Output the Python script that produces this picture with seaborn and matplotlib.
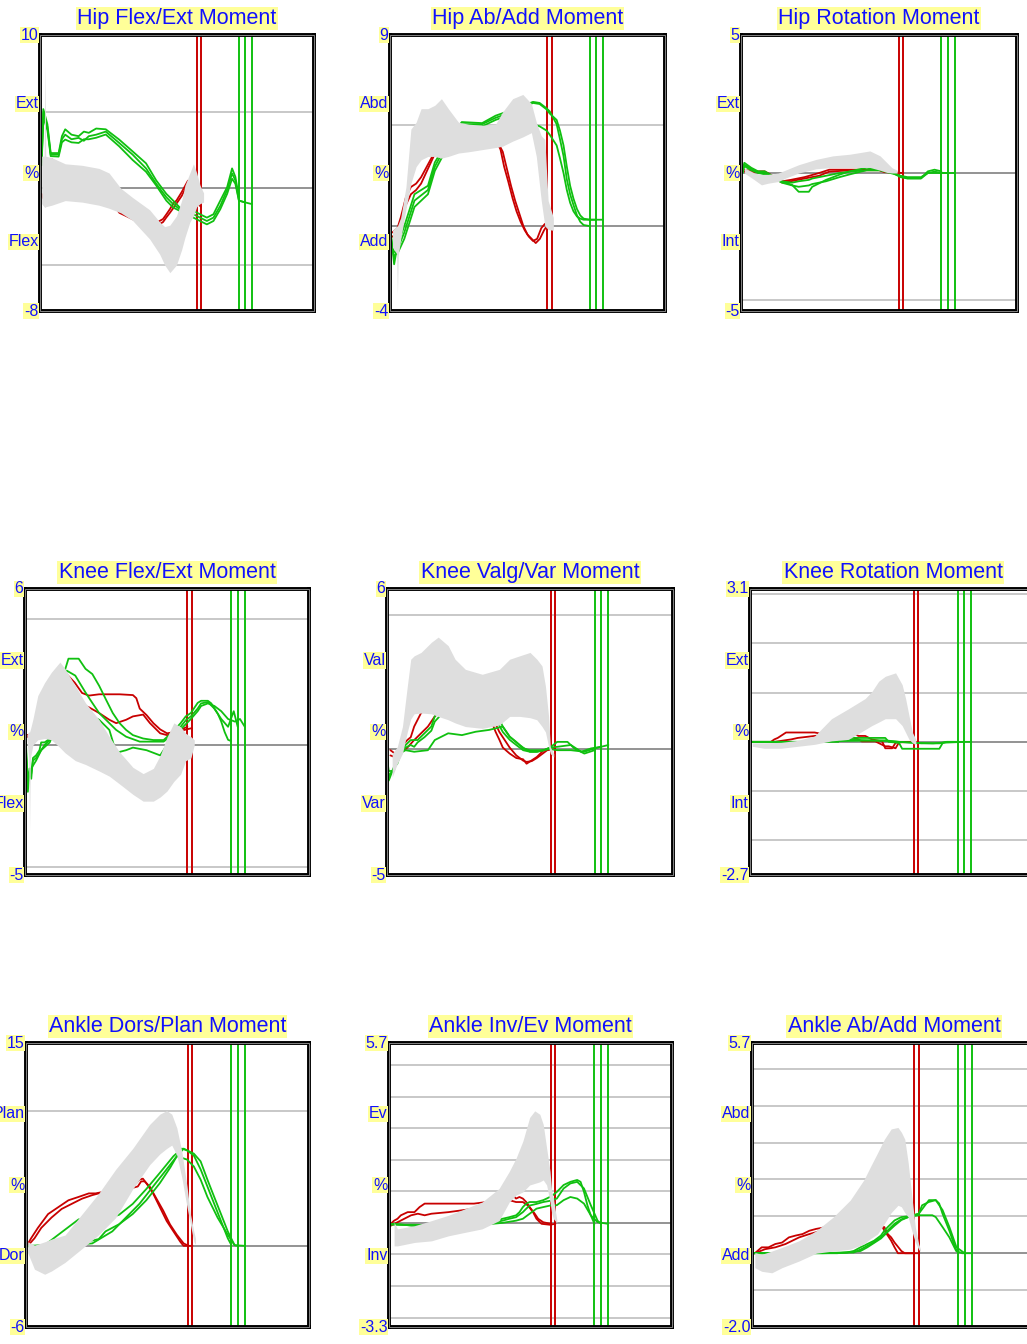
import pandas as pd
import seaborn as sns
import matplotlib.pyplot as plt
from matplotlib.patches import Rectangle
from matplotlib.transforms import offset_copy

# ---- panel text / scales ----
titles = ['Hip Flex/Ext Moment', 'Hip Ab/Add Moment', 'Hip Rotation Moment',
          'Knee Flex/Ext Moment', 'Knee Valg/Var Moment', 'Knee Rotation Moment',
          'Ankle Dors/Plan Moment', 'Ankle Inv/Ev Moment', 'Ankle Ab/Add Moment']
y_limits = [(-8, 10), (-4, 9), (-5, 5), (-5, 6), (-5, 6), (-2.7, 3.1), (-6, 15), (-3.3, 5.7), (-2.0, 5.7)]
y_labels = [['10', 'Ext', '%', 'Flex', '-8'],
            ['9', 'Abd', '%', 'Add', '-4'],
            ['5', 'Ext', '%', 'Int', '-5'],
            ['6', 'Ext', '%', 'Flex', '-5'],
            ['6', 'Val', '%', 'Var', '-5'],
            ['3.1', 'Ext', '%', 'Int', '-2.7'],
            ['15', 'Plan', '%', 'Dor', '-6'],
            ['5.7', 'Ev', '%', 'Inv', '-3.3'],
            ['5.7', 'Abd', '%', 'Add', '-2.0']]
grid_light = [[5, -5], [4.75], [-4.6], [4.85, -4.7], [5], [3, 2, 1, -1, -2], [10],
              [5, 4, 3, 2, 1, -1, -2, -3], [5, 4, 3, 2, 1, -1]]
grid_dark = [0, 0, 0, 0, -0.15, 0, 0, 0, 0]

# foot-off events (% of cycle)
red_off = [57.2, 58.8]
green_off = [72.6, 74.9, 77.4]

# ---- Hip Flex/Ext ----
hip_fe_band_x = [0.6, 1.5, 1.8, 2.1, 4.3, 9.2, 15.4, 21.5, 25.2, 29.5, 33.8, 40.0, 43.7, 45.5, 47.4, 49.8, 51.7, 52.9, 54.7, 56.0, 57.2, 58.4, 59.7]
hip_fe_band_hi = [2.1, 2.1, 8.2, 2.1, 2.0, 1.6, 1.5, 1.3, 1.0, 0.0, -0.6, -1.4, -2.2, -2.5, -2.4, -1.8, -0.8, 0.2, 1.0, 1.6, 1.0, 0.2, -0.3]
hip_fe_band_lo = [-1.0, -1.2, -1.25, -1.2, -1.1, -0.8, -0.9, -1.1, -1.3, -1.6, -2.1, -3.3, -4.3, -5.0, -5.5, -5.0, -4.0, -3.2, -2.2, -1.8, -1.2, -1.0, -0.9]
hip_fe_red1 = [(0.6, -0.36), (1.8, -0.7), (3.2, 0.5), (4.3, 1.9), (8.0, 1.3), (13.0, 1.1), (20.0, 0.6), (29.0, -1.5), (36.0, -2.0), (42.0, -2.3), (44.9, -2.0), (46.1, -1.7), (47.4, -1.36), (48.6, -1.0), (49.8, -0.8), (51.7, -0.25), (54.0, 0.5), (56.0, -0.6), (57.2, -1.0)]
hip_fe_red2 = [(0.6, -0.5), (1.8, -0.8), (3.2, 0.3), (4.3, 1.7), (8.0, 1.2), (13.0, 1.0), (20.0, 0.5), (29.0, -1.6), (36.0, -2.2), (42.0, -2.5), (44.9, -2.2), (46.1, -1.9), (47.4, -1.6), (48.6, -1.3), (49.8, -1.0), (51.7, -0.5), (54.0, 0.3), (56.0, -0.8), (58.8, -1.2)]
hip_fe_green1 = [(0.6, 1.85), (1.2, 5.17), (2.7, 4.18), (3.9, 2.3), (6.8, 2.3), (8.0, 3.4), (9.2, 3.85), (11.5, 3.5), (14.1, 3.4), (16.0, 3.7), (17.8, 3.62), (20.5, 3.9), (24.0, 3.85), (28.9, 3.18), (33.8, 2.41), (38.7, 1.63), (42.4, 0.52), (46.1, -0.36), (48.6, -0.8), (51.0, -1.25), (53.5, -1.4), (56.0, -1.47), (58.4, -1.69), (60.9, -1.91), (63.3, -1.69), (65.8, -0.8), (68.3, 0.08), (70.1, 1.3), (71.3, 0.75), (72.6, -0.58)]
hip_fe_green2 = [(0.6, 1.7), (1.2, 4.9), (2.7, 4.0), (3.9, 2.2), (6.8, 2.2), (8.0, 3.2), (9.2, 3.5), (11.5, 3.2), (14.1, 3.29), (16.0, 3.1), (17.8, 3.4), (20.5, 3.5), (24.0, 3.7), (28.9, 2.96), (33.8, 2.2), (38.7, 1.3), (42.4, 0.3), (46.1, -0.58), (48.6, -1.03), (51.0, -1.36), (53.5, -1.5), (56.0, -1.69), (58.4, -1.91), (60.9, -2.13), (63.3, -1.91), (65.8, -1.14), (68.3, -0.1), (70.1, 0.97), (71.3, 0.52), (72.6, -0.8), (74.9, -0.92)]
hip_fe_green3 = [(0.6, 1.5), (1.2, 4.6), (2.7, 3.8), (3.9, 2.1), (6.8, 2.07), (8.0, 3.0), (9.2, 3.18), (11.5, 3.0), (14.1, 2.96), (16.0, 3.2), (17.8, 3.2), (20.5, 3.3), (24.0, 3.51), (28.9, 2.74), (33.8, 1.85), (38.7, 1.08), (42.4, 0.19), (46.1, -0.8), (48.6, -1.25), (51.0, -1.47), (53.5, -1.6), (56.0, -1.91), (58.4, -2.13), (60.9, -2.35), (63.3, -2.13), (65.8, -1.36), (68.3, -0.36), (70.1, 0.63), (71.3, 0.3), (72.6, -0.8), (74.9, -0.92), (77.4, -1.03)]

# ---- Hip Ab/Add ----
hip_aa_band_x = [0.9, 2.4, 2.7, 3.0, 3.9, 5.8, 7.6, 9.5, 11.3, 13.8, 16.3, 18.7, 21.2, 24.9, 28.6, 33.5, 38.4, 40.9, 44.6, 48.3, 51.4, 53.2, 55.0, 56.3, 57.5, 59.4]
hip_aa_band_hi = [-0.2, 0.0, 0.0, 0.1, 0.4, 1.84, 4.57, 4.89, 5.53, 5.53, 5.69, 6.0, 5.53, 4.89, 4.8, 4.75, 4.8, 5.37, 6.0, 6.2, 5.77, 4.89, 4.25, 4.08, 1.2, 0.4]
hip_aa_band_lo = [-1.0, -1.3, -3.2, -1.4, -0.6, 0.8, 2.0, 2.8, 3.12, 3.28, 3.28, 3.2, 3.28, 3.44, 3.5, 3.6, 3.7, 3.76, 4.0, 4.2, 4.4, 3.28, 1.2, 0.0, -0.16, -0.2]
hip_aa_red1 = [(0.9, -0.3), (2.7, -0.1), (3.9, 0.4), (5.8, 1.36), (7.6, 1.84), (9.5, 2.0), (11.3, 2.3), (13.8, 2.9), (16.3, 3.5), (20.0, 3.9), (30.0, 4.1), (38.4, 4.1), (40.2, 3.6), (41.5, 2.8), (43.0, 2.1), (44.6, 1.3), (46.0, 0.7), (47.5, 0.2), (49.0, -0.2), (50.5, -0.5), (52.0, -0.7), (53.5, -0.6), (55.0, -0.1), (56.3, 0.1), (57.2, 0.15)]
hip_aa_red2 = [(0.9, -0.5), (2.7, -0.3), (3.9, 0.1), (5.8, 1.0), (7.6, 1.5), (9.5, 1.7), (11.3, 2.0), (13.8, 2.7), (16.3, 3.4), (20.0, 3.8), (30.0, 4.0), (39.0, 4.0), (41.0, 3.5), (42.5, 2.7), (44.0, 1.9), (45.5, 1.2), (47.0, 0.6), (48.5, 0.0), (50.0, -0.4), (51.5, -0.6), (53.0, -0.8), (54.5, -0.6), (56.0, -0.2), (57.5, 0.1), (58.8, 0.15)]
hip_aa_green1 = [(0.3, -0.3), (1.5, -1.8), (2.7, -0.9), (5.2, 0.0), (8.9, 1.5), (13.8, 1.9), (16.3, 3.0), (20.0, 3.8), (26.1, 4.9), (33.5, 4.85), (38.4, 5.2), (45.0, 5.5), (52.0, 5.85), (54.4, 5.8), (56.9, 5.55), (58.1, 5.4), (60.6, 4.8), (61.8, 4.1), (63.1, 3.3), (64.3, 2.2), (65.5, 1.5), (66.7, 1.0), (68.0, 0.5), (69.2, 0.2), (70.4, 0.05), (72.6, 0.0)]
hip_aa_green2 = [(0.3, -0.5), (1.5, -1.5), (2.7, -1.1), (5.2, -0.3), (8.9, 1.2), (13.8, 1.7), (16.3, 2.8), (20.0, 3.7), (26.1, 4.8), (33.5, 4.8), (38.4, 5.1), (45.0, 5.4), (52.0, 5.8), (54.4, 5.75), (56.9, 5.5), (58.1, 5.3), (60.6, 5.0), (61.8, 4.5), (63.1, 3.8), (64.3, 2.8), (65.5, 1.9), (66.7, 1.3), (68.0, 0.8), (69.2, 0.5), (70.4, 0.35), (72.7, 0.3), (74.9, 0.3)]
hip_aa_green3 = [(0.3, -0.8), (1.5, -1.2), (2.7, -1.3), (5.2, -0.6), (8.9, 0.9), (13.8, 1.5), (16.3, 2.6), (20.0, 3.5), (26.1, 4.7), (33.5, 4.7), (38.4, 5.0), (45.0, 5.3), (52.0, 4.8), (54.4, 4.7), (56.9, 4.5), (58.1, 4.3), (60.6, 3.8), (61.8, 3.2), (63.1, 2.5), (64.3, 1.7), (65.5, 1.1), (66.7, 0.7), (68.0, 0.45), (69.2, 0.35), (70.4, 0.3), (72.7, 0.3), (74.9, 0.3), (77.4, 0.3)]

# ---- Hip Rotation ----
hip_rot_band_x = [1.2, 4.9, 7.4, 9.8, 13.5, 16.0, 20.9, 27.1, 33.2, 39.4, 43.1, 46.7, 50.4, 52.9, 54.7, 56.6]
hip_rot_band_hi = [0.19, 0.0, -0.05, -0.05, 0.0, 0.1, 0.3, 0.49, 0.62, 0.68, 0.74, 0.80, 0.62, 0.37, 0.19, 0.1]
hip_rot_band_lo = [0.0, -0.25, -0.43, -0.37, -0.31, -0.19, 0.0, 0.15, 0.2, 0.2, 0.2, 0.2, 0.1, 0.02, 0.0, 0.0]
hip_rot_red1 = [(1.2, 0.12), (4.9, 0.06), (8.6, 0.06), (15.0, -0.3), (18.0, -0.25), (23.0, -0.15), (28.3, 0.0), (32.0, 0.12), (40.0, 0.12), (50.0, 0.12), (52.0, 0.05), (57.2, 0.0)]
hip_rot_red2 = [(1.2, 0.05), (4.9, 0.03), (8.6, 0.0), (15.0, -0.35), (18.0, -0.3), (23.0, -0.2), (28.3, -0.1), (32.0, 0.05), (40.0, 0.1), (50.0, 0.1), (52.0, 0.03), (58.8, 0.0)]
hip_rot_green1 = [(0.6, 0.1), (1.2, 0.37), (3.7, 0.19), (6.2, 0.06), (8.6, 0.06), (14.8, -0.31), (18.5, -0.43), (20.9, -0.68), (24.6, -0.68), (25.8, -0.5), (30.8, -0.25), (35.7, -0.06), (39.4, 0.06), (45.5, 0.19), (50.4, 0.12), (54.1, 0.06), (57.8, -0.12), (60.3, -0.19), (65.2, -0.19), (67.7, 0.06), (70.1, 0.12), (72.6, 0.06)]
hip_rot_green2 = [(0.6, 0.05), (1.2, 0.3), (3.7, 0.15), (6.2, 0.03), (8.6, 0.0), (14.8, -0.35), (18.5, -0.45), (20.9, -0.5), (24.6, -0.45), (25.8, -0.4), (30.8, -0.3), (35.7, -0.15), (39.4, -0.05), (45.5, 0.1), (50.4, 0.1), (54.1, 0.05), (57.8, -0.15), (60.3, -0.2), (65.2, -0.2), (67.7, 0.0), (70.1, 0.05), (72.8, 0.0), (74.9, 0.0)]
hip_rot_green3 = [(0.6, 0.0), (1.2, 0.25), (3.7, 0.1), (6.2, 0.0), (8.6, -0.05), (14.8, -0.3), (18.5, -0.35), (20.9, -0.3), (24.6, -0.25), (25.8, -0.2), (30.8, -0.1), (35.7, 0.0), (39.4, 0.05), (45.5, 0.1), (50.4, 0.1), (54.1, 0.0), (57.8, -0.1), (60.3, -0.15), (65.2, -0.15), (67.7, 0.0), (70.1, 0.0), (72.8, 0.0), (75.0, 0.0), (77.4, 0.0)]

# ---- Knee Flex/Ext ----
knee_fe_band_x = [0.7, 1.3, 1.6, 1.9, 2.8, 4.5, 6.9, 9.3, 12.3, 14.1, 17.7, 21.3, 26.1, 29.7, 33.3, 38.0, 41.6, 45.2, 47.6, 50.0, 52.4, 54.8, 56.6, 58.4, 59.6]
knee_fe_band_hi = [0.4, 0.5, 0.5, 0.6, 1.0, 1.9, 2.4, 2.8, 3.19, 2.93, 2.28, 1.62, 0.97, 0.32, -0.27, -0.86, -1.1, -0.9, -0.4, 0.3, 0.85, 0.7, 0.45, 0.32, 0.2]
knee_fe_band_lo = [0.2, -0.5, -3.28, -0.5, 0.0, 0.2, 0.25, 0.2, -0.1, -0.3, -0.6, -0.75, -1.0, -1.2, -1.5, -1.9, -2.16, -2.16, -2.0, -1.77, -1.4, -1.12, -0.6, -0.5, 0.0]
knee_fe_red1 = [(0.4, 0.38), (2.2, 0.4), (6.0, 1.2), (10.0, 2.2), (14.0, 2.8), (17.5, 2.4), (20.1, 2.0), (22.5, 1.9), (26.1, 1.95), (29.7, 1.95), (33.3, 1.95), (38.0, 1.92), (39.2, 1.8), (40.4, 1.4), (42.8, 1.15), (45.2, 0.84), (47.6, 0.6), (50.0, 0.45), (53.0, 0.5), (55.0, 0.6), (57.2, 0.7)]
knee_fe_red2 = [(0.4, 0.3), (2.2, 0.35), (6.0, 1.0), (10.0, 1.9), (14.0, 2.2), (17.5, 1.9), (20.1, 1.55), (22.5, 1.45), (26.1, 1.23), (29.7, 0.97), (32.1, 0.84), (35.6, 0.97), (38.0, 1.1), (41.6, 1.17), (44.0, 0.84), (47.6, 0.45), (50.0, 0.38), (53.0, 0.45), (55.0, 0.55), (58.8, 0.65)]
knee_fe_green1 = [(0.0, 0.3), (0.4, -0.1), (1.0, -1.8), (1.6, -0.9), (2.2, -1.3), (2.8, -0.5), (3.9, -0.4), (5.1, -0.2), (5.7, 0.1), (6.9, 0.1), (8.1, 0.19), (8.7, 0.32), (11.0, 1.5), (13.0, 2.5), (15.3, 3.32), (18.9, 3.32), (21.3, 2.93), (23.7, 2.73), (26.1, 2.28), (28.5, 1.75), (30.9, 1.23), (33.3, 0.84), (35.6, 0.58), (38.0, 0.38), (41.6, 0.25), (45.2, 0.19), (48.8, 0.19), (52.0, 0.5), (54.8, 0.84), (56.6, 1.1), (58.4, 1.23), (60.8, 1.62), (62.0, 1.7), (64.4, 1.7), (65.6, 1.6), (66.7, 1.4), (67.9, 1.2), (69.1, 0.9), (70.3, 0.5), (71.5, 0.2), (72.6, 0.15)]
knee_fe_green2 = [(0.0, 0.2), (0.4, -0.3), (1.0, -1.5), (1.6, -1.0), (2.2, -1.1), (2.8, -0.6), (3.9, -0.5), (5.1, -0.3), (6.9, 0.0), (8.7, 0.2), (11.0, 1.3), (13.0, 2.3), (14.7, 2.86), (17.7, 2.67), (21.3, 2.02), (23.7, 1.62), (26.1, 1.23), (29.7, 0.84), (32.1, 0.58), (35.6, 0.32), (40.4, 0.13), (45.2, 0.13), (48.8, 0.13), (52.0, 0.4), (54.8, 0.7), (56.6, 0.95), (58.4, 1.1), (60.8, 1.4), (62.0, 1.6), (64.4, 1.65), (66.7, 1.4), (69.1, 1.0), (71.5, 0.7), (73.5, 1.3), (74.9, 0.7)]
knee_fe_green3 = [(0.0, 0.1), (0.4, -0.5), (1.0, -1.2), (2.2, -0.9), (3.9, -0.6), (5.7, -0.2), (8.7, 0.1), (12.0, 1.0), (16.0, 1.5), (20.1, 1.62), (23.7, 1.1), (26.1, 0.97), (29.7, 0.58), (32.1, -0.3), (35.6, -0.2), (38.0, -0.1), (42.8, -0.2), (47.6, -0.4), (50.0, 0.0), (52.0, 0.3), (54.8, 0.6), (56.6, 0.8), (58.4, 1.0), (60.8, 1.3), (62.0, 1.5), (64.4, 1.6), (66.7, 1.5), (69.1, 1.3), (71.5, 1.0), (73.9, 0.9), (75.7, 1.0), (77.4, 0.7)]

# ---- Knee Valg/Var ----
knee_vv_band_x = [1.8, 3.6, 5.4, 7.1, 8.3, 9.5, 11.9, 15.5, 17.9, 21.4, 23.8, 27.4, 33.3, 39.3, 42.9, 46.4, 50.0, 52.4, 54.2, 55.4, 56.5, 57.1, 58.3]
knee_vv_band_hi = [-0.33, -0.07, 0.71, 2.26, 3.3, 3.43, 3.56, 3.95, 4.15, 3.82, 3.3, 2.91, 2.72, 2.91, 3.3, 3.43, 3.56, 3.3, 3.04, 2.26, 1.1, -0.07, -0.33]
knee_vv_band_lo = [-1.24, -0.72, -0.33, 0.5, 1.0, 1.2, 1.23, 1.2, 1.1, 0.97, 0.85, 0.71, 0.64, 0.77, 1.1, 1.1, 1.05, 0.97, 0.71, 0.5, -0.07, -0.33, -0.46]
knee_vv_red1 = [(1.2, -0.4), (3.6, -0.5), (6.0, 0.06), (7.1, 0.19), (8.3, 0.3), (9.5, 0.71), (10.7, 0.97), (11.9, 1.23), (15.0, 1.5), (20.0, 1.6), (30.0, 1.4), (36.9, 0.8), (38.0, 0.5), (39.3, 0.2), (40.5, -0.1), (42.9, -0.33), (45.2, -0.5), (47.6, -0.55), (48.8, -0.72), (50.6, -0.59), (52.4, -0.46), (54.8, -0.2), (57.2, -0.15)]
knee_vv_red2 = [(1.2, -0.2), (3.6, -0.4), (6.0, -0.2), (7.1, -0.1), (9.5, 0.19), (11.9, 0.45), (14.3, 0.71), (16.7, 1.1), (20.0, 1.4), (30.0, 1.3), (38.0, 0.8), (39.3, 0.5), (40.5, 0.3), (42.9, -0.1), (45.2, -0.4), (47.6, -0.6), (48.8, -0.65), (50.6, -0.62), (52.4, -0.5), (54.8, -0.3), (56.0, -0.2), (58.8, -0.15)]
knee_vv_green1 = [(0.0, -0.33), (0.6, -1.37), (2.4, -0.85), (3.6, -0.72), (4.8, -0.33), (6.5, 0.0), (8.3, 0.19), (10.7, 0.19), (13.1, 0.45), (15.5, 0.71), (16.7, 1.1), (20.0, 1.5), (30.0, 1.5), (38.0, 1.3), (40.5, 0.7), (42.9, 0.32), (45.2, 0.12), (47.6, -0.13), (50.0, -0.2), (52.4, -0.2), (54.8, -0.2), (57.0, -0.1), (59.5, 0.12), (63.1, 0.12), (65.5, -0.13), (69.0, -0.33), (72.6, -0.2)]
knee_vv_green2 = [(0.0, -0.4), (0.6, -1.2), (2.4, -0.9), (3.6, -0.6), (4.8, -0.3), (6.5, -0.1), (8.3, 0.0), (9.5, -0.07), (10.7, 0.1), (13.1, 0.3), (15.5, 0.55), (16.7, 0.9), (20.0, 1.3), (30.0, 1.3), (38.0, 1.0), (40.5, 0.5), (42.9, 0.2), (45.2, 0.0), (47.6, -0.2), (50.0, -0.26), (52.4, -0.26), (54.8, -0.2), (57.0, -0.1), (59.5, -0.07), (64.3, 0.0), (67.9, -0.26), (71.4, -0.13), (74.9, -0.07)]
knee_vv_green3 = [(0.0, -0.5), (0.6, -1.0), (2.4, -1.0), (3.6, -0.5), (4.8, -0.3), (6.5, -0.2), (9.5, -0.26), (14.3, -0.2), (16.7, 0.19), (21.4, 0.45), (26.2, 0.38), (31.0, 0.51), (35.7, 0.58), (40.5, 0.71), (42.9, 0.32), (45.2, 0.1), (47.6, -0.1), (50.0, -0.26), (52.4, -0.26), (54.8, -0.2), (57.0, -0.15), (59.5, -0.2), (64.3, -0.2), (69.0, -0.26), (72.6, -0.13), (77.4, 0.0)]

# ---- Knee Rotation ----
knee_rot_band_x = [0.8, 4.9, 10.8, 16.7, 22.6, 28.5, 34.4, 40.3, 42.6, 45.0, 47.3, 50.9, 53.2, 54.4, 55.6, 56.8, 58.0]
knee_rot_band_hi = [-0.02, -0.02, -0.01, 0.03, 0.12, 0.47, 0.67, 0.88, 1.02, 1.23, 1.33, 1.40, 1.16, 0.88, 0.53, 0.19, 0.05]
knee_rot_band_lo = [-0.09, -0.13, -0.13, -0.09, -0.05, 0.02, 0.05, 0.25, 0.33, 0.40, 0.47, 0.47, 0.33, 0.19, 0.05, -0.02, -0.06]
knee_rot_red1 = [(0.2, 0.0), (7.3, 0.0), (8.5, 0.05), (9.7, 0.08), (12.6, 0.19), (22.6, 0.19), (26.1, 0.15), (33.2, 0.19), (35.6, 0.19), (37.9, 0.12), (40.3, 0.12), (42.6, 0.05), (46.2, 0.01), (47.3, -0.13), (49.7, -0.13), (50.9, -0.02), (52.1, 0.0), (57.2, 0.0)]
knee_rot_red2 = [(0.2, 0.0), (8.5, 0.0), (14.4, 0.05), (16.7, 0.08), (22.6, 0.12), (28.5, 0.15), (34.4, 0.12), (37.9, 0.05), (39.1, 0.01), (43.8, 0.01), (47.3, -0.09), (48.5, -0.09), (50.9, -0.13), (52.1, -0.01), (58.8, 0.0)]
knee_rot_green1 = [(0.2, 0.0), (26.1, 0.0), (26.5, 0.05), (30.9, 0.08), (47.3, 0.08), (48.5, 0.0), (52.1, -0.02), (53.2, -0.14), (66.2, -0.14), (67.4, -0.02), (68.6, 0.0), (72.6, 0.0)]
knee_rot_green2 = [(0.2, 0.0), (30.9, 0.0), (31.2, 0.05), (47.3, 0.02), (52.1, 0.0), (58.0, -0.02), (64.0, -0.03), (66.2, -0.02), (74.9, 0.0)]
knee_rot_green3 = [(0.2, 0.0), (20.0, 0.0), (35.0, 0.02), (47.3, 0.03), (52.1, 0.0), (60.0, -0.03), (66.2, -0.03), (69.0, 0.0), (77.4, 0.0)]

# ---- Ankle Dors/Plan ----
ank_dp_band_x = [0.6, 3.0, 6.6, 9.0, 13.8, 19.8, 25.7, 31.7, 37.7, 43.7, 47.3, 49.7, 51.5, 53.3, 55.1, 56.9, 58.1, 59.3, 59.9]
ank_dp_band_hi = [0.3, 0.05, 0.3, 0.5, 0.8, 2.35, 3.88, 5.66, 7.2, 8.98, 9.74, 10.0, 9.74, 8.72, 6.94, 4.39, 2.35, 1.07, 0.56]
ank_dp_band_lo = [-0.5, -1.73, -2.1, -1.86, -1.22, -0.2, 0.82, 2.09, 4.2, 6.0, 6.8, 7.2, 7.45, 6.7, 5.0, 2.86, 1.58, 0.31, 0.1]
ank_dp_red1 = [(0.4, 0.05), (1.8, 0.56), (4.2, 1.33), (7.8, 2.35), (11.4, 2.86), (15.0, 3.37), (18.6, 3.62), (22.2, 3.88), (24.6, 3.88), (30.0, 4.1), (35.0, 4.4), (38.9, 4.64), (40.1, 4.9), (41.3, 4.97), (42.5, 4.64), (44.9, 3.88), (47.3, 2.86), (49.7, 1.84), (52.1, 1.07), (54.5, 0.31), (55.7, 0.0), (57.2, 0.0)]
ank_dp_red2 = [(0.6, 0.0), (3.0, 0.56), (5.4, 1.33), (9.0, 2.09), (12.6, 2.73), (16.2, 3.11), (19.8, 3.49), (23.4, 3.75), (25.7, 3.88), (32.0, 4.1), (36.0, 4.2), (39.5, 4.39), (40.7, 4.77), (41.9, 4.77), (43.7, 4.39), (46.1, 3.49), (48.5, 2.6), (50.9, 1.58), (53.3, 0.82), (55.7, 0.18), (57.5, 0.0), (58.8, 0.0)]
ank_dp_green1 = [(0.6, 0.0), (6.6, 0.05), (11.4, 0.82), (18.6, 1.96), (25.7, 1.8), (32.9, 2.3), (37.7, 3.1), (42.5, 4.2), (47.3, 5.4), (52.1, 6.63), (55.1, 7.19), (56.9, 7.06), (59.3, 6.68), (61.7, 5.66), (64.1, 4.39), (66.5, 3.11), (68.9, 1.84), (71.3, 0.56), (72.6, 0.05)]
ank_dp_green2 = [(0.6, -0.05), (6.6, 0.05), (13.8, 0.05), (23.4, 0.18), (30.5, 1.07), (35.3, 2.09), (40.1, 3.11), (44.9, 4.39), (49.7, 5.66), (53.3, 6.63), (55.7, 7.19), (59.3, 6.82), (61.7, 6.25), (64.1, 4.9), (66.5, 3.62), (68.9, 2.35), (71.3, 1.07), (73.7, 0.05), (74.9, 0.0)]
ank_dp_green3 = [(0.6, 0.0), (3.0, -0.07), (11.4, 0.05), (18.6, 0.18), (25.7, 0.5), (28.1, 1.07), (32.9, 1.6), (37.7, 2.35), (42.5, 3.37), (47.3, 4.64), (51.0, 5.8), (53.3, 6.63), (56.9, 6.38), (59.3, 5.87), (61.7, 4.9), (64.1, 3.62), (67.7, 2.09), (71.3, 0.82), (73.7, 0.05), (77.4, 0.0)]

# ---- Ankle Inv/Ev ----
ank_ie_band_x = [1.8, 3.0, 9.0, 15.0, 21.0, 26.9, 32.9, 38.9, 42.5, 44.9, 47.3, 49.7, 51.5, 53.3, 54.5, 55.7, 56.9, 57.5, 58.1, 59.3]
ank_ie_band_hi = [0.02, -0.19, -0.09, 0.07, 0.24, 0.45, 0.66, 1.09, 1.63, 2.05, 2.59, 3.34, 3.55, 3.44, 3.12, 2.37, 1.63, 1.0, 0.77, 0.1]
ank_ie_band_lo = [-0.73, -0.73, -0.62, -0.57, -0.41, -0.3, -0.19, 0.07, 0.66, 0.88, 0.98, 1.2, 1.25, 1.3, 1.36, 1.2, 0.66, 0.3, 0.13, 0.0]
ank_ie_red1 = [(0.6, -0.03), (1.8, 0.07), (3.0, 0.13), (4.2, 0.24), (6.6, 0.34), (9.0, 0.34), (10.8, 0.5), (12.6, 0.61), (20.0, 0.61), (30.0, 0.61), (38.0, 0.7), (42.5, 0.82), (43.7, 0.88), (44.9, 0.77), (46.1, 0.82), (47.3, 0.77), (48.5, 0.66), (49.7, 0.5), (51.5, 0.29), (52.7, 0.13), (54.5, 0.02), (57.2, -0.03)]
ank_ie_red2 = [(0.6, -0.09), (3.0, 0.02), (5.4, 0.13), (7.8, 0.24), (10.2, 0.29), (12.6, 0.24), (15.0, 0.29), (21.0, 0.34), (30.0, 0.45), (38.0, 0.55), (42.5, 0.72), (44.9, 0.66), (47.3, 0.66), (49.1, 0.55), (50.9, 0.34), (52.1, 0.13), (53.9, -0.03), (56.9, -0.06), (58.8, -0.03)]
ank_ie_green1 = [(0.6, -0.03), (5.0, -0.06), (9.0, -0.09), (20.0, -0.06), (26.9, -0.03), (32.9, 0.0), (37.7, 0.07), (40.1, 0.13), (42.5, 0.18), (44.9, 0.24), (46.1, 0.34), (47.3, 0.5), (48.5, 0.61), (49.7, 0.66), (52.1, 0.66), (54.5, 0.72), (55.7, 0.77), (57.5, 0.85), (59.3, 0.98), (61.7, 1.2), (64.1, 1.3), (66.5, 1.36), (67.7, 1.3), (68.9, 0.98), (70.1, 0.56), (71.3, 0.24), (72.6, -0.03)]
ank_ie_green2 = [(0.6, -0.06), (9.0, -0.06), (20.0, -0.09), (26.9, -0.06), (32.9, -0.03), (37.7, 0.02), (40.1, 0.07), (42.5, 0.13), (44.9, 0.18), (47.3, 0.34), (48.5, 0.45), (49.7, 0.55), (52.1, 0.6), (54.5, 0.66), (57.0, 0.7), (59.3, 0.77), (61.7, 1.09), (64.1, 1.25), (66.5, 1.3), (68.9, 1.09), (71.3, 0.56), (73.7, 0.07), (74.9, -0.03)]
ank_ie_green3 = [(0.6, -0.03), (9.0, -0.09), (20.0, -0.09), (32.9, -0.06), (40.1, 0.0), (44.9, 0.07), (47.3, 0.13), (49.7, 0.29), (52.1, 0.45), (54.5, 0.5), (57.0, 0.55), (59.3, 0.56), (61.7, 0.72), (64.1, 0.82), (66.5, 0.77), (68.9, 0.61), (71.3, 0.24), (73.7, 0.02), (77.4, -0.03)]

# ---- Ankle Ab/Add ----
ank_aa_band_x = [1.0, 3.4, 7.0, 10.6, 16.6, 22.6, 28.6, 34.6, 39.4, 41.8, 44.2, 46.6, 49.0, 51.4, 52.6, 53.8, 55.0, 56.3, 57.5, 58.7, 59.3]
ank_aa_band_hi = [0.02, -0.03, 0.06, 0.16, 0.34, 0.61, 0.98, 1.44, 1.99, 2.36, 2.72, 3.09, 3.37, 3.41, 3.28, 3.09, 2.45, 1.53, 0.71, 0.25, 0.11]
ank_aa_band_lo = [-0.39, -0.49, -0.53, -0.39, -0.21, 0.0, 0.06, 0.11, 0.25, 0.4, 0.52, 0.8, 1.1, 1.3, 1.26, 1.1, 0.98, 0.6, 0.3, 0.1, 0.05]
ank_aa_red1 = [(0.5, 0.0), (1.0, 0.0), (3.4, 0.16), (5.8, 0.16), (8.2, 0.25), (10.6, 0.29), (13.0, 0.43), (15.4, 0.48), (17.8, 0.52), (20.2, 0.61), (22.6, 0.66), (26.2, 0.71), (28.6, 0.71), (35.0, 0.75), (42.0, 0.8), (45.4, 0.8), (46.6, 0.61), (47.8, 0.48), (49.0, 0.34), (50.2, 0.16), (51.4, 0.0), (57.2, 0.0)]
ank_aa_red2 = [(0.5, 0.0), (1.0, 0.0), (4.6, 0.11), (8.2, 0.16), (11.8, 0.25), (14.2, 0.34), (16.6, 0.43), (20.2, 0.52), (22.6, 0.57), (26.2, 0.66), (28.6, 0.66), (35.0, 0.7), (42.0, 0.72), (46.6, 0.71), (47.8, 0.52), (49.0, 0.43), (50.2, 0.29), (52.6, 0.06), (53.8, 0.0), (58.8, 0.0)]
ank_aa_green1 = [(0.5, 0.0), (20.0, 0.0), (33.4, 0.02), (35.8, 0.06), (38.2, 0.16), (40.6, 0.25), (43.0, 0.34), (45.4, 0.48), (46.6, 0.61), (47.8, 0.71), (49.0, 0.8), (50.2, 0.89), (52.6, 0.98), (55.0, 1.0), (58.7, 1.07), (59.9, 1.3), (62.3, 1.39), (64.7, 1.44), (65.9, 1.35), (67.1, 1.07), (69.5, 0.61), (71.5, 0.16), (72.6, 0.0)]
ank_aa_green2 = [(0.5, 0.0), (25.0, 0.0), (35.8, 0.02), (38.2, 0.1), (40.6, 0.2), (43.0, 0.3), (45.4, 0.43), (47.8, 0.62), (50.2, 0.8), (52.6, 0.92), (55.0, 0.98), (58.7, 1.07), (62.3, 1.44), (64.7, 1.44), (67.1, 1.17), (69.5, 0.71), (72.0, 0.16), (74.9, 0.0)]
ank_aa_green3 = [(0.5, 0.0), (30.0, 0.0), (38.2, 0.06), (40.6, 0.16), (43.0, 0.28), (45.4, 0.4), (47.8, 0.58), (50.2, 0.75), (52.6, 0.9), (55.0, 0.98), (58.7, 1.03), (63.5, 1.03), (64.7, 0.98), (67.1, 0.71), (69.5, 0.43), (71.9, 0.06), (74.0, 0.0), (77.4, 0.0)]

bands = [(hip_fe_band_x, hip_fe_band_lo, hip_fe_band_hi), (hip_aa_band_x, hip_aa_band_lo, hip_aa_band_hi),
         (hip_rot_band_x, hip_rot_band_lo, hip_rot_band_hi), (knee_fe_band_x, knee_fe_band_lo, knee_fe_band_hi),
         (knee_vv_band_x, knee_vv_band_lo, knee_vv_band_hi), (knee_rot_band_x, knee_rot_band_lo, knee_rot_band_hi),
         (ank_dp_band_x, ank_dp_band_lo, ank_dp_band_hi), (ank_ie_band_x, ank_ie_band_lo, ank_ie_band_hi),
         (ank_aa_band_x, ank_aa_band_lo, ank_aa_band_hi)]
traces = [[hip_fe_red1, hip_fe_red2, hip_fe_green1, hip_fe_green2, hip_fe_green3],
          [hip_aa_red1, hip_aa_red2, hip_aa_green1, hip_aa_green2, hip_aa_green3],
          [hip_rot_red1, hip_rot_red2, hip_rot_green1, hip_rot_green2, hip_rot_green3],
          [knee_fe_red1, knee_fe_red2, knee_fe_green1, knee_fe_green2, knee_fe_green3],
          [knee_vv_red1, knee_vv_red2, knee_vv_green1, knee_vv_green2, knee_vv_green3],
          [knee_rot_red1, knee_rot_red2, knee_rot_green1, knee_rot_green2, knee_rot_green3],
          [ank_dp_red1, ank_dp_red2, ank_dp_green1, ank_dp_green2, ank_dp_green3],
          [ank_ie_red1, ank_ie_red2, ank_ie_green1, ank_ie_green2, ank_ie_green3],
          [ank_aa_red1, ank_aa_red2, ank_aa_green1, ank_aa_green2, ank_aa_green3]]
sides = ['L', 'L', 'R', 'R', 'R']

RED = '#c80000'
GREEN = '#10c010'
BLUE = '#1010ff'
YELLOW = '#ffff99'
BAND = '#dedede'

sns.set_style('white')
plt.rcParams['font.family'] = ['Liberation Sans', 'DejaVu Sans']

W, H = 1027, 1344
fig = plt.figure(figsize=(W / 100, H / 100), dpi=100)

# panel boxes in pixels: left, top, right, bottom
boxes = [(40, 35, 314, 311), (390, 35, 665, 311), (741, 35, 1017, 311),
         (25, 589, 309, 875), (387, 589, 673, 875), (750, 589, 1036, 875),
         (26, 1043, 309, 1327), (389, 1043, 672, 1327), (752, 1043, 1036, 1327)]

for i in range(9):
    l, t, r, b = boxes[i]
    ax = fig.add_axes([l / W, 1 - b / H, (r - l) / W, (b - t) / H])
    lo_lim, hi_lim = y_limits[i]

    for g in grid_light[i]:
        ax.axhline(g, color='#c4c4c4', lw=1.3, zorder=1)
    ax.axhline(grid_dark[i], color='#8a8a8a', lw=1.3, zorder=1)
    for xv in red_off:
        ax.axvline(xv, color=RED, lw=1.4, zorder=1.5)
    for xv in green_off:
        ax.axvline(xv, color=GREEN, lw=1.4, zorder=1.5)

    rows = []
    for k, pts in enumerate(traces[i]):
        for x, y in pts:
            rows.append((x, y, k, sides[k]))
    df = pd.DataFrame(rows, columns=['pct', 'moment', 'trace', 'side'])
    sns.lineplot(data=df, x='pct', y='moment', units='trace', estimator=None, hue='side',
                 palette={'L': RED, 'R': GREEN}, sort=False, legend=False, lw=1.3, ax=ax)

    bx, blo, bhi = bands[i]
    ax.fill_between(bx, blo, bhi, color=BAND, lw=0, zorder=3)

    ax.set_xlim(0, 100)
    ax.set_ylim(lo_lim, hi_lim)
    ax.set_xticks([])
    ax.set_yticks([])
    ax.set_xlabel('')
    ax.set_ylabel('')
    for s in ax.spines.values():
        s.set_color('black')
        s.set_linewidth(2.8)
        s.set_zorder(5)
    ax.add_patch(Rectangle((0, 0), 1, 1, transform=ax.transAxes, fill=False,
                           ec='#9a9a9a', lw=0.6, zorder=6, clip_on=False))

    ax.text(0.5, 1.0, titles[i], transform=offset_copy(ax.transAxes, fig=fig, y=6, units='dots'),
            ha='center', va='bottom', fontsize=15.5, color=BLUE,
            bbox=dict(boxstyle='square,pad=0.06', fc=YELLOW, ec='none'))
    for frac, lab in zip([1.0, 0.75, 0.5, 0.25, 0.0], y_labels[i]):
        ax.text(-0.005, frac, lab, transform=ax.transAxes, ha='right', va='center',
                fontsize=11.5, color=BLUE, zorder=7,
                bbox=dict(boxstyle='square,pad=0.05', fc=YELLOW, ec='none'))

fig.savefig('out.png', dpi=100)
